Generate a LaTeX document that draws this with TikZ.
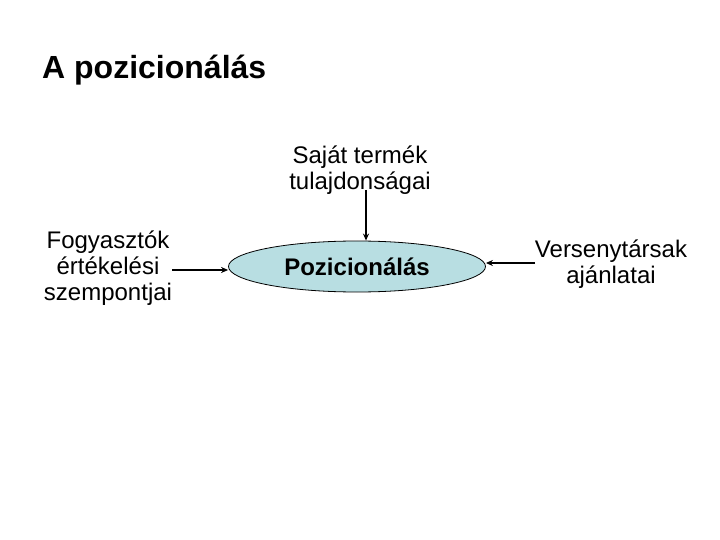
\documentclass[tikz,border=0pt]{standalone}
\usepackage{fontspec}
\setmainfont{Liberation Sans}
\usepackage{tikz}
\usetikzlibrary{arrows.meta,shapes.geometric}
\definecolor{ovalfill}{RGB}{184,222,226}
\tikzset{
  txt/.style={align=center,inner sep=0pt,font=\fontsize{24bp}{26bp}\selectfont},
  arr/.style={line width=1.5bp,-{Stealth[length=7bp,width=6bp]}}
}

\begin{document}
\begin{tikzpicture}[x=1bp,y=-1bp]
\useasboundingbox (0,0) rectangle (720,540);
\node[anchor=base west,inner sep=0pt,font=\fontsize{32bp}{36bp}\selectfont\bfseries] (title) at (42,79) {A pozicionálás};
\node[draw,ellipse,fill=ovalfill,line width=0.8bp,minimum width=257bp,minimum height=51bp,inner sep=0pt,
  font=\fontsize{24bp}{26bp}\selectfont\bfseries] (pos) at (357,266.5) {Pozicionálás};
\node[txt] (sajat) at (360,170) {Saját termék\\tulajdonságai};
\node[txt] (fogy) at (108,268) {Fogyasztók\\értékelési\\szempontjai};
\node[txt] (verseny) at (611,264) {Versenytársak\\ajánlatai};
% arrows into the oval
\coordinate (top) at (366,190);
\draw[arr] (top) -- (top |- pos.north);
\coordinate (left) at (172,270);
\draw[arr] (left) -- (left -| pos.west);
\coordinate (right) at (535,263);
\draw[arr] (right) -- (pos.east |- right);
\end{tikzpicture}
\end{document}
